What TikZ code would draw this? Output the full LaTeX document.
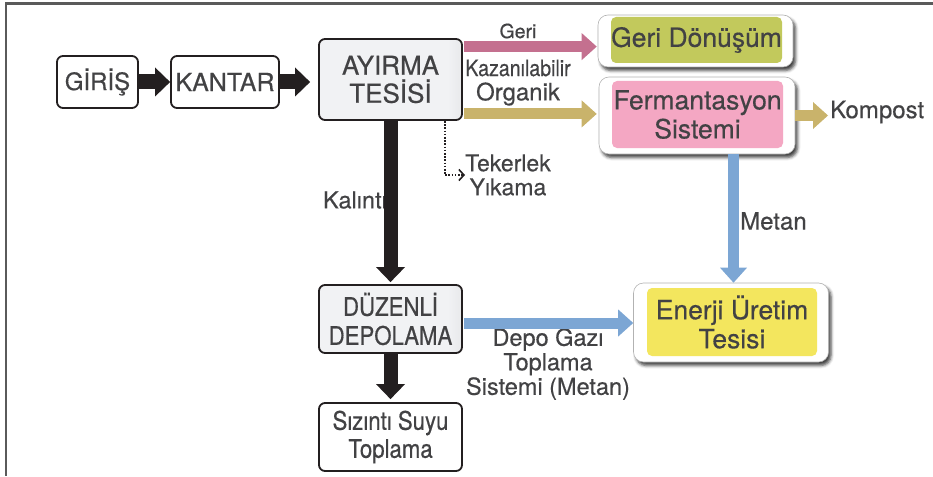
\documentclass[tikz,border=0pt]{standalone}
\usepackage{fontspec}
\setmainfont{TeX Gyre Heros}[FakeBold=0.45]
\newfontfamily\condfont{TeX Gyre Heros}[FakeBold=0.45, FakeStretch=0.87]
\usetikzlibrary{arrows.meta,shadows.blur,calc}
\definecolor{txt}{HTML}{424244}
\definecolor{boxline}{HTML}{231F20}
\definecolor{frameC}{HTML}{5A5A5A}
\definecolor{gA}{HTML}{F1F2F4}
\definecolor{gB}{HTML}{B8B9BC}
\definecolor{pinkA}{HTML}{C4708F}
\definecolor{tanA}{HTML}{C9B36B}
\definecolor{blueA}{HTML}{7CA6D4}
\definecolor{greenF}{HTML}{C2C95C}
\definecolor{pinkF}{HTML}{F4A7C3}
\definecolor{yellowF}{HTML}{F3E65E}
\pgfdeclarehorizontalshading{boxgrad}{100bp}{color(0bp)=(gA); color(70bp)=(gA); color(100bp)=(gB)}
\tikzset{
  basebox/.style={draw=boxline, line width=1.8pt, rounded corners=6pt, text=txt, align=center, inner sep=0pt},
  plainbox/.style={basebox, fill=white},
  gradbox/.style={basebox, shade, shading=boxgrad},
  shadowbox/.style={draw=black!30, line width=0.6pt, fill=white, rounded corners=10pt, inner sep=0pt,
    blur shadow={shadow xshift=2.5pt, shadow yshift=-3.5pt, shadow blur radius=3pt, shadow opacity=75}},
  innerbox/.style={rounded corners=5pt, text=txt, align=center, inner sep=0pt, font=\fontsize{26.5}{29}\selectfont},
  lbl/.style={text=txt, inner sep=0pt, font=\fontsize{23.5}{24.5}\selectfont},
  blkarrow/.style={draw=boxline, line width=15pt, -{Triangle[length=15pt, width=29pt, line width=0pt]}},
  colarrow/.style={line width=11pt, -{Triangle[length=15pt, width=27pt, line width=0pt]}},
  dotarrow/.style={draw=boxline, line width=1.8pt, dash pattern=on 1.6pt off 1.6pt, -{Straight Barb[length=5pt, width=11pt, line width=1.6pt]}},
  frameline/.style={draw=frameC, line width=2.5pt}
}
\begin{document}
\begin{tikzpicture}[x=1pt,y=-1pt]
\useasboundingbox (0,0) rectangle (933,476);
% frame
\draw[frameline] (5,3.5) -- (933,3.5);
\draw[frameline] (6,3.5) -- (6,476);

% boxes
\node[plainbox, minimum width=81pt, minimum height=52pt, font=\fontsize{24}{28}\selectfont] (giris) at (97.5,82) {GİRİŞ};
\node[plainbox, minimum width=108pt, minimum height=52pt, font=\fontsize{25}{28}\selectfont] (kantar) at (225,82) {KANTAR};
\node[gradbox, minimum width=143pt, minimum height=81pt, font=\fontsize{26}{28}\selectfont] (ayirma) at (390.5,79.5) {AYIRMA\\TESİSİ};
\node[gradbox, minimum width=143pt, minimum height=68pt, font=\condfont\fontsize{25.5}{29}\selectfont] (duzenli) at (390.5,319) {DÜZENLİ\\DEPOLAMA};
\node[plainbox, minimum width=143pt, minimum height=68pt, font=\condfont\fontsize{25.5}{28}\selectfont] (sizinti) at (390.5,437) {Sızıntı Suyu\\Toplama};

\node[shadowbox, minimum width=195pt, minimum height=52pt] (geri) at (695.5,41) {};
\node[innerbox, fill=greenF, minimum width=171pt, minimum height=46pt] (geriin) at (696.5,40) {Geri Dönüşüm};
\node[shadowbox, minimum width=196pt, minimum height=77pt] (ferm) at (697,115.5) {};
\node[innerbox, fill=pinkF, minimum width=171pt, minimum height=67pt] (fermin) at (697.5,114.5) {Fermantasyon\\Sistemi};
\node[shadowbox, minimum width=195pt, minimum height=79pt] (enerji) at (731,322.5) {};
\node[innerbox, fill=yellowF, minimum width=170pt, minimum height=68pt] (enerjiin) at (732,322) {Enerji Üretim\\Tesisi};

% labels
\node[lbl, font=\fontsize{19.5}{22}\selectfont] (lgeri) at (518,31) {Geri};
\node[lbl, font=\condfont\fontsize{22.5}{24}\selectfont] (lkaz) at (518,68) {Kazanılabilir};
\node[lbl, font=\fontsize{24}{24}\selectfont] (lorg) at (518,94) {Organik};
\node[lbl, anchor=west, font=\fontsize{24}{24}\selectfont] (kompost) at (830,112) {Kompost};
\node[lbl, anchor=east] (lkal) at (387,200) {Kalıntı};
\node[lbl, anchor=west, font=\fontsize{24}{24}\selectfont] (lmetan) at (740,221) {Metan};
\node[lbl, align=center] (ldepo) at (548,364) {Depo Gazı\\Toplama\\Sistemi (Metan)};
\node[lbl, align=center, font=\fontsize{23}{24}\selectfont, anchor=west] (teker) at (465,175) {Tekerlek\\Yıkama};

% black arrows
\draw[blkarrow] (giris.east) -- (giris.east -| kantar.west);
\draw[blkarrow, shorten >=8pt] (kantar.east) -- (kantar.east -| ayirma.west);
\draw[blkarrow, line width=14pt, shorten >=2pt] (ayirma.south) -- (duzenli.north);
\draw[blkarrow, line width=14pt, shorten >=3pt] (duzenli.south) -- (sizinti.north);

% coloured arrows
\coordinate (pgs) at ([yshift=-8.5pt]ayirma.north east);
\coordinate (tns) at ([yshift=7pt]ayirma.south east);
\coordinate (mts) at ([xshift=36.5pt]ferm.south);
\coordinate (dps) at ([yshift=-4pt]duzenli.east);
\draw[colarrow, draw=pinkA, fill=pinkA, shorten <=0.9pt, shorten >=1pt] (pgs) -- (pgs -| geri.west);
\draw[colarrow, draw=tanA, fill=tanA, shorten <=0.9pt, shorten >=2pt] (tns) -- (tns -| ferm.west);
\draw[colarrow, draw=tanA, fill=tanA, shorten >=2pt] (ferm.east) -- (ferm.east -| kompost.west);
\draw[colarrow, draw=blueA, fill=blueA] (mts) -- (mts |- enerji.north);
\draw[colarrow, draw=blueA, fill=blueA, shorten <=0.9pt] (dps) -- (dps -| enerji.west);

% dotted arrow
\draw[dotarrow] ([xshift=-18pt]ayirma.south east) |- (teker.west);
\end{tikzpicture}
\end{document}
